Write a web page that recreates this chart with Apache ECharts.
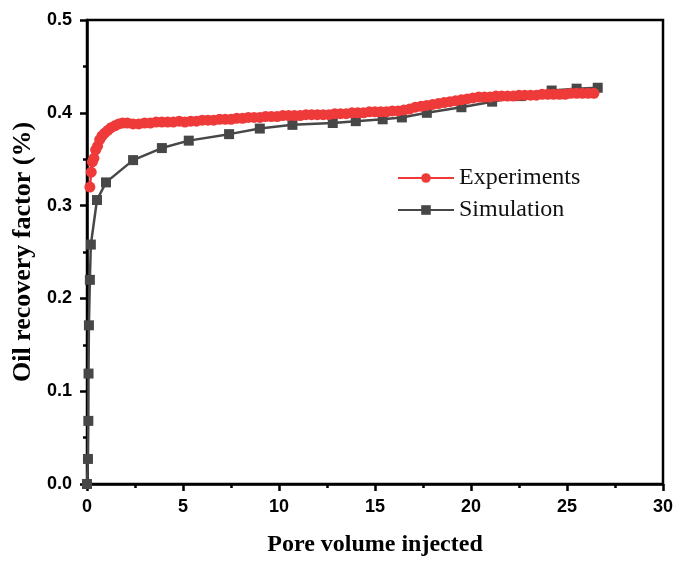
<!DOCTYPE html>
<html>
<head>
<meta charset="utf-8">
<script src="https://cdn.jsdelivr.net/npm/echarts@6/dist/echarts.min.js"></script>
<style>html,body{margin:0;padding:0;background:#fff}#c{width:690px;height:562px}</style>
</head>
<body>
<div id="c"></div>
<script>
const xTicks = [0, 5, 10, 15, 20, 25, 30];
const yTicks = [0.0, 0.1, 0.2, 0.3, 0.4, 0.5];

const expX = [0.15,0.22,0.28,0.36,0.45,0.55,0.66,0.78,0.92,1.08,1.25,1.45,1.65,1.85,2.1,
  2.4,2.7,3.0,3.3,3.6,3.9,4.2,4.5,4.8,5.1,5.4,5.7,6.0,6.3,6.6,6.9,7.2,7.5,7.8,8.1,8.4,8.7,9.0,9.3,9.6,9.9,
  10.2,10.5,10.8,11.1,11.4,11.7,12.0,12.3,12.6,12.9,13.2,13.5,13.8,14.1,14.4,14.7,15.0,15.3,15.6,15.9,
  16.2,16.5,16.8,17.1,17.4,17.7,18.0,18.3,18.6,18.9,19.2,19.5,19.8,20.1,20.4,20.7,21.0,21.3,21.6,21.9,
  22.2,22.5,22.8,23.1,23.4,23.7,24.0,24.3,24.6,24.9,25.2,25.5,25.8,26.1,26.4];
const expY = [0.320,0.336,0.347,0.351,0.360,0.364,0.371,0.375,0.378,0.381,0.384,0.386,0.388,0.389,0.389,
  0.388,0.388,0.389,0.389,0.390,0.390,0.390,0.390,0.391,0.390,0.391,0.391,0.392,0.392,0.392,0.393,0.393,0.393,0.394,0.394,0.395,0.395,0.395,0.396,0.396,0.396,
  0.397,0.397,0.397,0.397,0.398,0.398,0.398,0.398,0.398,0.399,0.399,0.399,0.400,0.400,0.400,0.401,0.401,0.401,0.401,0.402,
  0.402,0.403,0.404,0.406,0.407,0.408,0.409,0.410,0.411,0.412,0.413,0.414,0.415,0.416,0.417,0.417,0.417,0.418,0.418,0.418,
  0.418,0.419,0.419,0.419,0.419,0.420,0.420,0.420,0.420,0.420,0.421,0.421,0.421,0.421,0.421];

const simX = [0.0,0.05,0.07,0.08,0.10,0.15,0.20,0.52,0.99,2.4,3.9,5.3,7.4,9.0,10.7,12.8,14.0,15.4,16.4,17.7,19.5,21.1,22.6,24.2,25.5,26.6];
const simY = [0.000,0.027,0.068,0.119,0.171,0.220,0.258,0.306,0.325,0.349,0.362,0.370,0.377,0.383,0.387,0.389,0.391,0.393,0.395,0.400,0.406,0.412,0.418,0.424,0.426,0.427];

const expData = expX.map((x, i) => [x, expY[i]]);
const simData = simX.map((x, i) => [x, simY[i]]);

const chart = echarts.init(document.getElementById('c'), null, {renderer: 'canvas'});
const tickFont = {fontFamily: 'Liberation Sans, Arial, sans-serif', fontWeight: 'bold', fontSize: 18, color: '#000'};
chart.setOption({
  animation: false,
  backgroundColor: '#fff',
  grid: {left: 87, right: 27, top: 20, bottom: 77, show: true, borderColor: '#000', borderWidth: 2.5, containLabel: false},
  legend: {
    orient: 'vertical', left: 392, top: 160, itemWidth: 56, itemHeight: 12, itemGap: 6,
    data: ['Experiments', 'Simulation'],
    textStyle: {fontFamily: 'Liberation Serif, Times New Roman, serif', fontSize: 24, color: '#111', lineHeight: 26}
  },
  xAxis: {
    type: 'value', min: xTicks[0], max: xTicks[xTicks.length - 1], interval: 5,
    name: 'Pore volume injected', nameLocation: 'middle', nameGap: 49,
    nameTextStyle: {fontFamily: 'Liberation Serif, Times New Roman, serif', fontWeight: 'bold', fontSize: 24, color: '#000'},
    axisLine: {show: true, lineStyle: {color: '#000', width: 2.5}},
    axisTick: {show: true, inside: false, length: 7, lineStyle: {color: '#000', width: 2.5}},
    minorTick: {show: true, splitNumber: 2, length: 4, lineStyle: {color: '#000', width: 2.5}},
    axisLabel: Object.assign({margin: 14, formatter: v => String(v)}, tickFont),
    splitLine: {show: false}
  },
  yAxis: {
    type: 'value', min: yTicks[0], max: yTicks[yTicks.length - 1], interval: 0.1,
    name: 'Oil recovery factor (%)', nameLocation: 'middle', nameGap: 47,
    nameTextStyle: {fontFamily: 'Liberation Serif, Times New Roman, serif', fontWeight: 'bold', fontSize: 26, color: '#000'},
    axisLine: {show: true, lineStyle: {color: '#000', width: 2.5}},
    axisTick: {show: true, inside: false, length: 7, lineStyle: {color: '#000', width: 2.5}},
    minorTick: {show: true, splitNumber: 2, length: 4, lineStyle: {color: '#000', width: 2.5}},
    axisLabel: Object.assign({margin: 15, formatter: v => v.toFixed(1)}, tickFont),
    splitLine: {show: false}
  },
  series: [
    {
      name: 'Simulation', type: 'line', data: simData, z: 2,
      symbol: 'rect', symbolSize: 10, showAllSymbol: true,
      lineStyle: {color: '#474747', width: 2.5},
      itemStyle: {color: '#474747'}
    },
    {
      name: 'Experiments', type: 'line', data: expData, z: 3,
      symbol: 'circle', symbolSize: 11, showAllSymbol: true,
      lineStyle: {color: '#EF3A3A', width: 2.5},
      itemStyle: {color: '#EF3A3A'}
    }
  ]
});
</script>
</body>
</html>
